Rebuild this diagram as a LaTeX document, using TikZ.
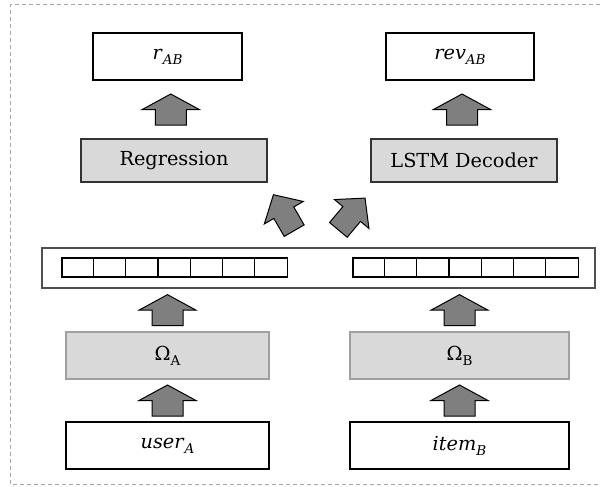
\documentclass[tikz,border=0pt]{standalone}
\usepackage{fontspec}
\setmainfont{DejaVu Serif}
\usetikzlibrary{calc}
\definecolor{boxgray}{HTML}{D9D9D9}
\definecolor{arrgray}{HTML}{7F7F7F}
\definecolor{dashgray}{HTML}{A6A6A6}
\definecolor{omborder}{HTML}{A0A0A0}
\definecolor{vecborder}{HTML}{505050}
\newcommand\lowtxt[1]{\raisebox{-5pt}{\fontsize{13.5}{15}\selectfont #1}}
\begin{document}
\begin{tikzpicture}[x=1pt,y=-1pt,
  txt/.style={font=\fontsize{19.3}{23}\selectfont},
  whitebox/.style={txt, draw=black, line width=1.2pt, fill=white, minimum width=#1, minimum height=47pt, inner sep=0pt},
  graybox/.style={txt, draw=black!80, line width=1.2pt, fill=boxgray, minimum width=#1, minimum height=43pt, inner sep=0pt},
  ombox/.style={txt, draw=omborder, line width=1.2pt, fill=boxgray, minimum width=#1, minimum height=47pt, inner sep=0pt},
  vecbox/.style={draw=vecborder, line width=1.8pt, fill=white, minimum width=553pt, minimum height=40pt, inner sep=0pt},
  cellrow/.style={draw=black, line width=1.2pt, fill=white, minimum width=225.4pt, minimum height=19pt, inner sep=0pt},
  celldiv/.style={draw=black, line width=1.2pt},
  arrowfill/.style={fill=arrgray, draw=black, line width=1pt, line join=miter},
  uparrow/.pic={\draw[arrowfill] (-15.5,15.5) -- (15.5,15.5) -- (15.5,0) -- (28.5,0) -- (0,-15.5) -- (-28.5,0) -- (-15.5,0) -- cycle;},
  diagarrow/.pic={\draw[arrowfill] (-11.5,20.75) -- (11.5,20.75) -- (11.5,0) -- (22.5,0) -- (0,-20.75) -- (-22.5,0) -- (-11.5,0) -- cycle;}
]
\useasboundingbox (0,0) rectangle (600,487);
\draw[dashgray, line width=1pt, dash pattern=on 4pt off 3pt] (600,5) -- (10.5,5) -- (10.5,484) -- (600,484);

% top outputs
\node[whitebox=149pt] (rab) at (167.5,56.5) {\textit{r}\lowtxt{\textit{AB}}};
\node[whitebox=148pt] (rev) at (460,56.5) {\textit{rev}\lowtxt{\textit{AB}}};
% heads
\node[graybox=186pt] (reg) at (174,160.5) {Regression};
\node[graybox=186pt] (lstm) at (464,160.5) {LSTM Decoder};
% shared vector
\node[vecbox] (vec) at (318.5,268) {};
\node[cellrow] (lcells) at (174.7,267.5) {};
\node[cellrow] (rcells) at (465.7,267.5) {};
\foreach \i in {1,...,6} {
  \draw[celldiv] ($(lcells.north west)+(\i*32.2,0)$) -- ($(lcells.south west)+(\i*32.2,0)$);
  \draw[celldiv] ($(rcells.north west)+(\i*32.2,0)$) -- ($(rcells.south west)+(\i*32.2,0)$);
}
% encoders
\node[ombox=203pt] (omA) at (167.5,355.5) {Ω\lowtxt{A}};
\node[ombox=219pt] (omB) at (459.5,355.5) {Ω\lowtxt{B}};
% inputs
\node[whitebox=203pt] (user) at (167.5,445.5) {\textit{user}\lowtxt{\textit{A}}};
\node[whitebox=219pt] (item) at (459.5,445.5) {\textit{item}\lowtxt{\textit{B}}};

% block arrows
\pic at ($(reg.north)!0.5!(rab.south)$) {uparrow};
\pic at ($(lstm.north)!0.5!(rev.south)$) {uparrow};
\pic at ($(omA.north)!0.5!(omA.north|-vec.south)$) {uparrow};
\pic at ($(omB.north)!0.5!(omB.north|-vec.south)$) {uparrow};
\pic at ($(user.north)!0.5!(omA.south)$) {uparrow};
\pic at ($(item.north)!0.5!(omB.south)$) {uparrow};
\pic[rotate=30] at ($(vec.north)+(-34.7,-34.4)$) {diagarrow};
\pic[rotate=-40] at ($(vec.north)+(33.2,-33.1)$) {diagarrow};
\end{tikzpicture}
\end{document}
